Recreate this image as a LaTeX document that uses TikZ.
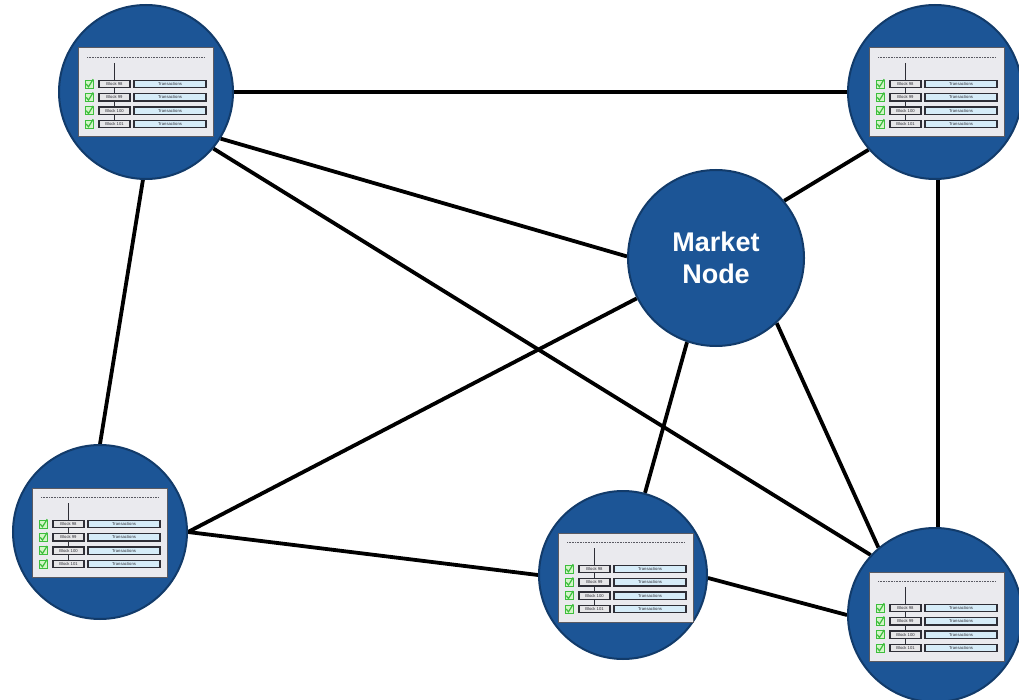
\documentclass[tikz,border=0pt]{standalone}
\usepackage{fontspec}
\setmainfont{Liberation Sans}
\usetikzlibrary{backgrounds,calc}
\definecolor{nodeblue}{HTML}{1C5596}
\definecolor{nodeedge}{HTML}{123B6A}
\definecolor{panelgray}{HTML}{EAEAEE}
\definecolor{paneledge}{HTML}{5A5A62}
\definecolor{txblue}{HTML}{D6ECF8}
\definecolor{blockgray}{HTML}{E6E6E8}
\definecolor{chkfill}{HTML}{D4F5C8}
\definecolor{chkgreen}{HTML}{3DBE3D}
\definecolor{boxedge}{HTML}{2E2E36}
\tikzset{
  peer/.style={circle, fill=nodeblue, draw=nodeedge, line width=2pt, minimum size=174pt, inner sep=0pt},
  market/.style={peer, minimum size=176pt, text=white, font=\fontsize{27}{32}\selectfont\bfseries, align=center},
  link/.style={line width=3.8pt, black},
  rowbox/.style={draw=boxedge, line width=1.4pt, minimum height=7.5pt, inner sep=0pt, text=boxedge, font=\fontsize{4.2}{4.2}\selectfont},
  blk/.style={rowbox, fill=blockgray, minimum width=31pt},
  tx/.style={rowbox, fill=txblue, minimum width=72pt},
  chk/.style={draw=chkgreen, fill=chkfill, line width=0.9pt, minimum size=8pt, inner sep=0pt},
}
\newcommand\blockpanel[2]{%
\begin{scope}[shift={(#1)}]
  \draw[draw=paneledge, fill=panelgray, line width=1pt] (-68,-44) rectangle (67,45);
  \draw[paneledge, line width=0.8pt, dash pattern=on 0.8pt off 0.8pt] (-59,-35) -- (59,-35);
  \draw[boxedge, line width=1.6pt] (-31.5,-29) -- (-31.5,32);
  \foreach \yy/\bb in {-8/98, 5.3/99, 18.7/100, 32/101} {
    \node[chk] (#2c\bb) at (-57,\yy) {};
    \draw[chkgreen, line width=1.2pt] ($(#2c\bb.center)+(-2.8,0)$) -- ($(#2c\bb.center)+(-0.5,2.8)$) -- ($(#2c\bb.center)+(4.2,-4.8)$);
    \node[blk] (#2b\bb) at (-31.5,\yy) {Block \bb};
    \node[tx] (#2t\bb) at (24,\yy) {Transactions};
  }
\end{scope}}
\begin{document}
\begin{tikzpicture}[x=1pt,y=-1pt]
\useasboundingbox (0,0) rectangle (1019,700);
\node[peer] (tl) at (146,92) {};
\node[peer] (tr) at (935,92) {};
\node[market] (mk) at (716,258) {Market\\Node};
\node[peer] (bl) at (100,532) {};
\node[peer, minimum size=168pt] (bm) at (623,575) {};
\node[peer] (br) at (935,615) {};
\begin{scope}[on background layer]
  \draw[link] (tl.0) -- (tr.180);
  \draw[link] (tl.-32) -- (mk.179);
  \draw[link] (tl.-40) -- (br.137);
  \draw[link] (tl.-92) -- (bl.90);
  \draw[link] (tr.-139) -- (mk.40);
  \draw[link] (tr.-88) -- (br.88);
  \draw[link] (mk.-153) -- (bl.0);
  \draw[link] (mk.-109) -- (bm.75);
  \draw[link] (mk.-47) -- (br.130);
  \draw[link] (bl.0) -- (bm.180);
  \draw[link] (bm.-2) -- (br.180);
\end{scope}
\blockpanel{tl.center}{tl}
\blockpanel{$(tr.center)+(2,0)$}{tr}
\blockpanel{bl.center}{bl}
\blockpanel{$(bm.center)+(3,2)$}{bm}
\blockpanel{$(br.center)+(2,1)$}{br}
\end{tikzpicture}
\end{document}
